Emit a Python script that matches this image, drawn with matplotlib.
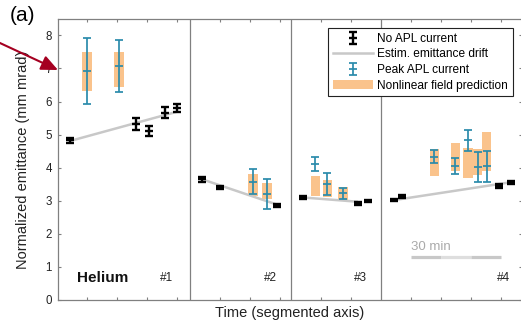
import matplotlib
matplotlib.use("Agg")
import matplotlib.pyplot as plt
from matplotlib.patches import FancyArrowPatch, Patch
from matplotlib.lines import Line2D

plt.rcParams['font.family'] = ['Liberation Sans', 'DejaVu Sans']

# Length of each measurement block on the segmented time axis (minutes)
segment_minutes = [44.17, 33.67, 30.0, 47.0]
segment_labels = ['#1', '#2', '#3', '#4']

# Reference shots without APL current: block index, time in block (min), emittance, error
ref_seg = [0, 0, 0, 0, 0, 1, 1, 1, 2, 2, 2, 3, 3, 3, 3]
ref_t = [4.3, 26.1, 30.6, 35.7, 39.8, 4.0, 10.0, 29.1, 3.9, 22.3, 25.8, 4.4, 7.1, 39.4, 43.3]
ref_emit = [4.83, 5.32, 5.12, 5.66, 5.79, 3.65, 3.40, 2.86, 3.10, 2.91, 2.99,
            3.02, 3.13, 3.44, 3.56]
ref_err = [0.08, 0.17, 0.15, 0.16, 0.12, 0.08, 0.04, 0.04, 0.04, 0.04, 0.04,
           0.04, 0.04, 0.06, 0.05]

# Linear drift estimate per block (start/end time and emittance)
drift_t0 = [4.3, 4.0, 3.9, 4.4]
drift_t1 = [39.8, 29.1, 22.3, 43.3]
drift_e0 = [4.81, 3.65, 3.10, 3.02]
drift_e1 = [5.69, 2.88, 2.97, 3.56]

# Shots at peak APL current with the nonlinear-field prediction band
apl_seg = [0, 0, 1, 1, 2, 2, 2, 3, 3, 3, 3, 3]
apl_t = [9.9, 20.5, 21.0, 25.7, 8.1, 12.1, 17.3, 17.8, 24.8, 29.0, 32.2, 35.2]
apl_emit = [6.92, 7.08, 3.57, 3.20, 4.12, 3.51, 3.22, 4.33, 4.06, 4.83, 4.01, 4.04]
apl_err = [0.99, 0.78, 0.38, 0.45, 0.21, 0.34, 0.18, 0.19, 0.24, 0.32, 0.45, 0.47]
pred_lo = [6.32, 6.43, 3.15, 3.05, 3.15, 3.12, 3.02, 3.75, 3.90, 3.68, 3.78, 3.91]
pred_hi = [7.50, 7.50, 3.80, 3.54, 3.76, 3.63, 3.42, 4.55, 4.76, 4.60, 4.56, 5.08]

# Scale bar (block, start, end in minutes)
bar_seg, bar_start, bar_end = 3, 10, 40

offsets = [sum(segment_minutes[:i]) for i in range(len(segment_minutes))]
total = sum(segment_minutes)

def gx(seg, t):
    return offsets[seg] + t

BLUE = '#2a8bab'
ORANGE = '#fac38c'
AXCOL = '#808080'

fig = plt.figure(figsize=(5.21, 3.23), dpi=100)
ax = fig.add_axes([57.5 / 521, 23 / 323, 464.5 / 521, 281.2 / 323])
ax.set_xlim(0, total)
ax.set_ylim(0, 8.5)

# block separators
for off in offsets[1:]:
    ax.axvline(off, color=AXCOL, lw=0.9, zorder=0.5)

# prediction bands
xs_apl = [gx(s, t) for s, t in zip(apl_seg, apl_t)]
ax.bar(xs_apl, [h - l for h, l in zip(pred_hi, pred_lo)], bottom=pred_lo,
       width=3.2, color=ORANGE, edgecolor='none', zorder=1)

# drift lines
for i in range(len(drift_t0)):
    ax.plot([gx(i, drift_t0[i]), gx(i, drift_t1[i])], [drift_e0[i], drift_e1[i]],
            color='#c8c8c8', lw=1.8, solid_capstyle='butt', zorder=2)

apl = ax.errorbar(xs_apl, apl_emit, yerr=apl_err, fmt='_', color=BLUE,
                  ecolor=BLUE, elinewidth=1.25, capsize=3.0, capthick=1.25,
                  markersize=6.0, markeredgewidth=1.25, zorder=3)

xs_ref = [gx(s, t) for s, t in zip(ref_seg, ref_t)]
ref = ax.errorbar(xs_ref, ref_emit, yerr=ref_err, fmt='_', color='black',
                  ecolor='black', elinewidth=1.7, capsize=2.9, capthick=1.7,
                  markersize=5.8, markeredgewidth=1.7, zorder=4)

# ticks: every 10 min within each block
ticks = []
for off, length in zip(offsets, segment_minutes):
    t = 10
    while t < length - 0.5:
        ticks.append(off + t)
        t += 10
ax.set_xticks(ticks)
ax.set_xticklabels([])
ax.set_yticks(range(0, 9))
ax.tick_params(direction='in', top=True, right=True, length=2.5, width=0.8,
               color=AXCOL, labelsize=8.3, labelcolor='#222222', pad=4)
for sp in ax.spines.values():
    sp.set_color(AXCOL)
    sp.set_linewidth(0.9)

ax.set_ylabel('Normalized emittance (mm mrad)', fontsize=10.5, color='#222222')
ax.yaxis.set_label_coords(-0.06, 0.5)
ax.set_xlabel('Time (segmented axis)', fontsize=10.5, color='#222222')
ax.xaxis.set_label_coords(0.5, -0.02)

# block labels
for i, lab in enumerate(segment_labels):
    right = offsets[i] + segment_minutes[i]
    pad = [5.7, 4.8, 4.7, 3.9][i]
    ax.text(right - pad, 0.67, lab, fontsize=8.5, ha='right', va='center',
            color='#222222')
ax.text(6.5, 0.67, 'Helium', fontsize=11, fontweight='bold', ha='left',
        va='center', color='#111111')

# scale bar
shades = ['#c8c8c8', '#dedede', '#c8c8c8']
for k in range(3):
    a = gx(bar_seg, bar_start + 10 * k)
    b = gx(bar_seg, bar_start + 10 * (k + 1))
    ax.plot([a, b], [1.29, 1.29], color=shades[k], lw=2.3, solid_capstyle='butt')
ax.text(gx(bar_seg, bar_start), 1.60, '30 min', fontsize=9.5, color='#aaaaaa',
        ha='left', va='center')

handles = [ref,
           Line2D([], [], color='#c8c8c8', lw=1.8),
           apl,
           Patch(facecolor=ORANGE, edgecolor='none')]
labels = ['No APL current', 'Estim. emittance drift', 'Peak APL current',
          'Nonlinear field prediction']
leg = ax.legend(handles, labels, loc='upper right', bbox_to_anchor=(0.9806, 0.967),
                borderaxespad=0, fontsize=8.6, frameon=True, fancybox=False,
                framealpha=1, edgecolor='#222222', handlelength=3.3,
                handletextpad=0.4, borderpad=0.4, labelspacing=0.3)
leg.get_frame().set_linewidth(0.8)

fig.text(10 / 521, 1 - 6 / 323, '(a)', fontsize=15, ha='left', va='top')

arrow = FancyArrowPatch((-5 / 521, 1 - 40.7 / 323), (58 / 521, 1 - 70 / 323),
                        transform=fig.transFigure,
                        arrowstyle='-|>,head_length=10,head_width=4.5',
                        mutation_scale=1, lw=1.5, color='#a50021',
                        shrinkA=0, shrinkB=0)
fig.add_artist(arrow)

fig.savefig('out.png', dpi=100)
